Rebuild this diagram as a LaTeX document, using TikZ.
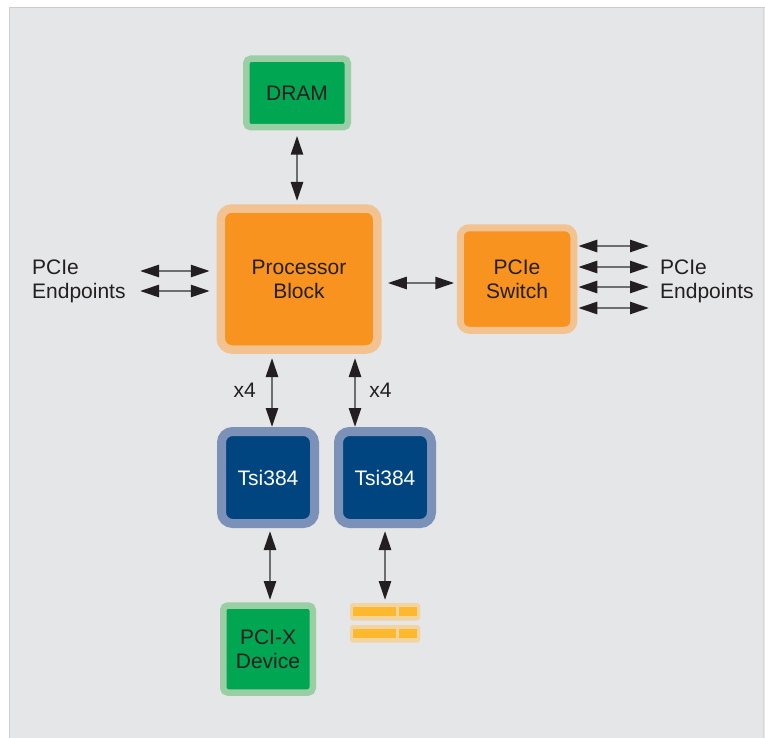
\documentclass[tikz,border=0pt]{standalone}
\usepackage{fontspec}
\setmainfont{Liberation Sans}
\usetikzlibrary{arrows.meta,positioning}

\definecolor{panel}{HTML}{E5E6E7}
\definecolor{panelline}{HTML}{CBCCCD}
\definecolor{ink}{HTML}{231F20}
\definecolor{shaft}{HTML}{6D6E71}
\definecolor{orangein}{HTML}{F7931E}
\definecolor{orangeout}{HTML}{F2C290}
\definecolor{greenin}{HTML}{00A651}
\definecolor{greenout}{HTML}{9ACEA5}
\definecolor{bluein}{HTML}{00457F}
\definecolor{blueout}{HTML}{7B91B8}
\definecolor{slotin}{HTML}{FDB92E}
\definecolor{slotout}{HTML}{F3D4A0}

\newcommand{\lblfont}{\fontsize{21}{24}\selectfont}

\begin{document}
\begin{tikzpicture}[x=1pt,y=-1pt,font=\lblfont,
    orangeblk/.style={draw=orangeout,fill=orangein,text=ink,align=center,inner sep=0pt,outer sep=0pt},
    greenblk/.style={draw=greenout,fill=greenin,text=ink,align=center,inner sep=0pt,outer sep=0pt,line width=6.5pt,rounded corners=4.5pt},
    blueblk/.style={draw=blueout,fill=bluein,text=white,align=center,inner sep=0pt,outer sep=0pt,line width=9pt,rounded corners=11pt,minimum width=93pt,minimum height=92pt},
    dbl/.style={draw=shaft,line width=2.6pt,{Triangle[length=19pt,width=12pt,color=ink]}-{Triangle[length=19pt,width=12pt,color=ink]}},
    lbl/.style={text=ink,inner sep=0pt}]
    \useasboundingbox (0,0) rectangle (765,738);
    % background panel
    \fill[panel] (9,7) rectangle (765,738);
    \draw[panelline,line width=1.5pt] (9.5,738) -- (9.5,7.5) -- (765,7.5);
    \draw[panelline!60!panel,line width=0.8pt] (763.5,7.5) -- (763.5,738);

    \node[orangeblk,line width=8.5pt,rounded corners=11pt,minimum width=156.5pt,minimum height=141pt] (proc) at (299,279) {Processor\\Block};
    \node[greenblk,minimum width=101.5pt,minimum height=68.5pt] (dram) at (297,93) {DRAM};
    \node[orangeblk,line width=7pt,rounded corners=9pt,minimum width=113.5pt,minimum height=102.5pt] (switch) at (517,279) {PCIe\\Switch};
    \node[blueblk] (tsia) at (268,477.5) {Tsi384};
    \node[blueblk,right=24pt of tsia] (tsib) {Tsi384};
    \node[greenblk,minimum width=89.5pt,minimum height=87pt,below=82pt of tsia] (pcix) {PCI-X\\Device};
    \node[inner sep=0pt,outer sep=0pt,minimum width=70pt,minimum height=40pt,below=79.5pt of tsib] (slot) {};
    % slot icon
    \foreach \dy in {0,22} {
        \fill[slotout,rounded corners=3pt] ([yshift=-\dy pt]slot.north west) rectangle ++(70,17.5);
        \fill[slotin] ([yshift=-\dy pt]slot.north west) ++(3,4) rectangle ++(43,9);
        \fill[slotin] ([yshift=-\dy pt]slot.north west) ++(49,4) rectangle ++(18,9);
    }

    \node[lbl,align=left,anchor=west] (eplbl) at (32,281) {PCIe\\Endpoints};
    \node[lbl,align=left,anchor=west] (eprlbl) at (660,281) {PCIe\\Endpoints};
    \coordinate (epl1) at (140,271);
    \coordinate (epl2) at (140,291);
    \coordinate (epr1) at (649,246);
    \coordinate (epr2) at (649,267);
    \coordinate (epr3) at (649,287);
    \coordinate (epr4) at (649,308);

    \path
        (dram.south) edge[dbl,shorten <=8.5pt,shorten >=7.5pt] (dram.south |- proc.north)
        (epl1) edge[dbl,shorten >=11pt] (epl1 -| proc.west)
        (epl2) edge[dbl,shorten >=11pt] (epl2 -| proc.west)
        ([yshift=-4pt]proc.east) edge[dbl,shorten <=10.5pt,shorten >=6pt] ([yshift=-4pt]switch.west)
        (switch.east |- epr1) edge[dbl,shorten <=4.5pt] (epr1)
        (switch.east |- epr2) edge[dbl,shorten <=4.5pt] (epr2)
        (switch.east |- epr3) edge[dbl,shorten <=4.5pt] (epr3)
        (switch.east |- epr4) edge[dbl,shorten <=4.5pt] (epr4)
        ([xshift=4pt]tsia.north |- proc.south) edge[dbl,shorten <=8.5pt,shorten >=4.5pt] node[lbl,left=15pt] {x4} ([xshift=4pt]tsia.north)
        ([xshift=-30pt]tsib.north |- proc.south) edge[dbl,shorten <=8.5pt,shorten >=4.5pt] node[lbl,right=13pt] {x4} ([xshift=-30pt]tsib.north)
        ([xshift=2pt]tsia.south) edge[dbl,shorten <=7.5pt,shorten >=5.5pt] ([xshift=2pt]tsia.south |- pcix.north)
        (tsib.south) edge[dbl,shorten <=7.5pt,shorten >=3pt] (tsib.south |- slot.north)
    ;
\end{tikzpicture}
\end{document}
